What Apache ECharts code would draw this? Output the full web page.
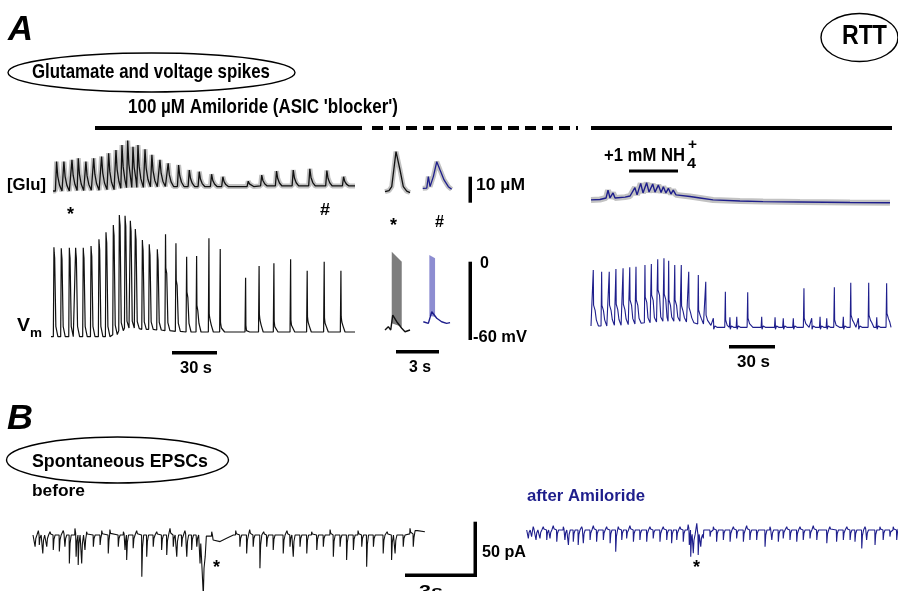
<!DOCTYPE html>
<html>
<head>
<meta charset="utf-8">
<script src="https://cdn.jsdelivr.net/npm/echarts@6/dist/echarts.min.js"></script>
<style>
  html, body { margin: 0; padding: 0; background: #fff; }
  #main { width: 898px; height: 591px; }
</style>
</head>
<body>
<div id="main"></div>
<script>
// ---------- A, left: amiloride run (time in s, Vm in mV, Glu in uM) ----------
var leftSpikeT  = [2.0, 7.0, 12.5, 16.8, 22.0, 27.3, 32.7, 37.5, 42.5, 46.6, 50.5, 54.1, 57.5, 62.3, 67.0, 72.5, 78.1, 85.2, 92.5, 99.3, 107.7, 115.4, 132.7, 141.9, 152.0, 163.4, 174.7, 186.3, 197.7];
var leftVmPeak  = [9.5, 8.8, 9.2, 9.2, 9.2, 10.5, 15.5, 20.8, 26.3, 33.8, 33.2, 29.5, 23.3, 15, 11.8, 8, 19.3, 12.5, 2.5, 3, 16.3, 8.3, -13.3, -4.5, -2.5, 0.5, -8.1, -1.3, -8];
var leftVmHump  = [5.5, 4.8, 5.2, 5.2, 5.2, 6.5, 11.5, 16.8, 22.3, 29.8, 29.2, 25.5, 19.3, 11, 7.8, 4, -6, -15, -24, -34, -41, -47, -49, -41, -46, -45, -42.5, -43.5, -42.5];
var leftVmWidth = [0.3, 0.3, 0.3, 0.3, 0.3, 0.3, 0.3, 0.3, 0.3, 0.3, 0.3, 0.3, 0.3, 0.3, 0.3, 0.3, 0.6, 0.6, 0.6, 0.6, 0.6, 0.6, 0.4, 0.4, 0.4, 0.4, 0.4, 0.4, 0.4];
var leftVmBase  = [-57.5, -57.5, -57.5, -57.5, -57.5, -57.5, -57.5, -57.5, -56, -53, -51, -51, -51.5, -52, -52, -52.5, -53, -53.5, -54, -54, -54, -54, -54, -54, -54, -54, -54, -54, -54];
var leftGluPeak = [10.5, 10.5, 11.1, 11.7, 10.5, 11.7, 12.3, 13.5, 14.6, 16.4, 18, 15.8, 16.4, 14.9, 12.9, 11.1, 9.9, 9.3, 7.5, 6.9, 6, 5.1, 3.5, 5.7, 7.1, 7.5, 7.9, 7.3, 5.1];
var leftGluTrough = [0, 0, 0.2, 0.2, 0.3, 0.3, 0.5, 0.5, 0.7, 1, 1.2, 1.3, 1.3, 1.5, 1.5, 1.6, 1.6, 1.6, 1.6, 1.6, 1.6, 1.6, 1.6, 1.8, 1.8, 1.8, 1.8, 1.8, 1.8];

// ---------- A, middle: single events * and # (3 s scale) ----------
var midGluBlackT = [0.35, 0.63, 0.82, 1.12, 1.40, 1.63, 1.87, 2.10];
var midGluBlackV = [0, 0.4, 1.8, 14.3, 7.75, 1.8, 0.2, -0.3];
var midGluBlueT  = [2.99, 3.27, 3.38, 3.5, 3.73, 3.97, 4.2, 4.48, 4.78, 5.01];
var midGluBlueV  = [1.2, 1.3, 5.4, 1.8, 5.4, 10.7, 7.75, 4.2, 1.8, 0.85];
var midVmBlackT  = [0.35, 0.58, 0.75, 0.89, 1.17, 1.52, 1.75, 2.1];
var midVmBlackV  = [-52.5, -50, -52.5, -41.3, -46.3, -51.2, -53.8, -52.5];
var midVmBlueT   = [3.03, 3.38, 3.62, 3.97, 4.31, 4.66, 4.9];
var midVmBlueV   = [-46.3, -47.5, -38.8, -43.7, -46.3, -47.5, -47];
// burst envelopes [t, top, bottom]
var midBurstBlack = [[0.82, 6.2, -47.5], [1.52, -1.3, -50]];
var midBurstBlue  = [[3.45, 3.75, -42], [3.85, 1.3, -42.5]];

// ---------- A, right: NH4+ run ----------
var rightGluT = [0, 5.9, 9.9, 11.2, 12.5, 14.5, 15.8, 22.4, 25.7, 28.9, 30.3, 32.7, 34.2, 36.6, 38.2, 40.6, 42.1, 44.3, 46.1, 47.6, 49.3, 50.9, 52.6, 54.1, 55.9, 65.1, 71.7, 80.3, 98, 113.2, 137.5, 170.4, 196.7];
var rightGluV = [1.1, 1.25, 1.8, 4.6, 1.8, 3.6, 1.8, 2.1, 2.5, 5.5, 2.9, 7.0, 3.6, 7.25, 3.9, 6.8, 3.9, 6.4, 3.75, 5.8, 3.6, 5.25, 3.2, 4.6, 2.9, 2.3, 1.8, 1.1, 0.7, 0.5, 0.36, 0.2, 0.1];
var rightSpikeT = [1.5, 7.0, 12.0, 16.4, 21.1, 25.5, 29.6, 35.5, 39.7, 43.9, 48.0, 51.1, 55.1, 59.4, 64.3, 70.6, 75.5, 88.4, 103.1, 140.1, 160.1, 170.9, 182.7, 194.5];
var rightVmPeak = [-7.5, -8.8, -8.8, -6.8, -6.2, -5.5, -5, -3.8, -3, 0.5, 1.3, -0.5, -3.8, -3.8, -8.8, -11.3, -16.3, -23.8, -24.2, -21.2, -20.5, -17, -17, -17.5];
var rightVmHump = [-33.8, -34, -33.8, -33.2, -33.2, -30, -30, -27.8, -26.3, -22.5, -25.7, -30, -30, -34.5, -35.5, -37.5, -41.3, -45, -43.7, -43.7, -45, -41.3, -41.3, -40];
var rightVmBase = [-49.5, -49.5, -49, -49, -48.5, -48, -47.5, -47, -46.5, -46, -46, -46, -46, -46.5, -47, -48, -49, -50.5, -50.5, -50.5, -50.5, -50.5, -50.5, -50.5];
var rightMinorT = [80.5, 91.4, 95.9, 112.3, 121.1, 126.5, 133.1, 145.2, 150.7, 155.1, 166, 175.9, 188];
var rightMinorV = [-43.7, -43, -42.5, -42.5, -43, -43.7, -43.7, -43.7, -42.5, -43.7, -42.5, -43.7, -43];

// ---------- B: spontaneous EPSCs (time in s, current in pA) ----------
var beforeT = [0.09, 0.27, 0.42, 0.59, 0.87, 1.13, 1.37, 1.56, 1.85, 1.94, 2.09, 2.23, 2.59, 2.88, 3.23, 3.66, 3.95, 4.02, 4.30, 4.67, 4.88, 5.16, 5.52, 5.74, 6.02, 6.17, 6.38, 6.60, 6.81, 7.03, 7.17, 7.24, 7.31, 7.45, 7.74, 8.88, 9.17, 9.45, 9.74, 10.03, 10.31, 10.74, 11.03, 11.17, 11.46, 11.75, 12.18, 12.46, 12.89, 13.18, 13.46, 13.75, 14.11, 14.32, 14.61, 15.03, 15.39, 15.54, 15.89, 16.32];
var beforeAmp = [-10.6, -9.1, -16.7, -10.6, -13.6, -15, -10.6, -25.8, -19.7, -27.3, -25.8, -13.6, -10.6, -9.1, -16.7, -10.6, -13.6, -22.7, -12, -37.9, -19.7, -10.6, -13.6, -18.2, -10.6, -19.7, -10.6, -19.7, -13.6, -10.6, -25.8, -55, -55, -22.7, -13.6, -10.6, -16.7, -10.6, -30.3, -10.6, -13.6, -16.7, -10.6, -19.7, -10.6, -16.7, -13.6, -10.6, -19.7, -10.6, -22.7, -13.6, -10.6, -28.8, -10.6, -16.7, -22.7, -16.7, -10.6, -10.6];
var beforeUpT = [0.23, 0.73, 1.30, 1.80, 2.30, 2.95, 3.30, 3.88, 4.45, 5.31, 5.88, 6.52, 7.67, 8.7, 9.3, 9.9, 10.9, 11.96, 12.75, 13.95, 15.2, 16.18, 16.47];
var beforeUpAmp = [4, 3, 4, 6, 3, 4, 5, 3, 4, 3, 6, 4, 3, 4, 5, 3, 4, 3, 5, 4, 3, 6, 4];
var beforeBase = [[0, 0], [7.0, 0], [7.24, -19.7], [7.45, -1], [7.74, -4.5], [8.03, -6], [8.31, -3], [8.6, 0], [16.0, 1], [16.4, 4], [16.82, 3]];

var afterT = [0.07, 0.21, 0.40, 0.57, 0.86, 1.00, 1.29, 1.64, 1.79, 2.00, 2.21, 2.43, 2.72, 3.00, 3.29, 3.58, 3.82, 4.08, 4.29, 4.58, 4.86, 5.15, 5.43, 5.72, 6.01, 6.22, 6.44, 6.72, 6.98, 7.04, 7.15, 7.36, 7.47, 7.58, 7.87, 8.15, 8.44, 8.73, 9.01, 9.30, 9.58, 9.87, 10.23, 10.52, 10.80, 11.01, 11.30, 11.59, 11.87, 12.16, 12.45, 12.88, 13.30, 13.59, 13.88, 14.09, 14.38, 14.59, 14.95, 15.30, 15.59, 15.88];
var afterAmp = [-7.6, -6, -9.1, -7.6, -9.1, -7.6, -10.6, -9.1, -13.6, -10.6, -13.6, -12, -9.1, -10.6, -9.1, -12, -19.7, -9.1, -7.6, -10.6, -9.1, -10.6, -7.6, -10.6, -9.1, -12, -9.1, -10.6, -13.6, -24.2, -21.2, -22.7, -15.2, -7.6, -6, -10.6, -9.1, -10.6, -7.6, -10.6, -9.1, -9.1, -15.2, -9.1, -10.6, -7.6, -9.1, -10.6, -9.1, -7.6, -9.1, -12, -10.6, -9.1, -9.1, -10.6, -16.7, -9.1, -13.6, -9.1, -6, -9.1];
var afterUpT = [0.28, 0.71, 1.14, 1.57, 2.36, 2.86, 3.43, 3.93, 4.43, 5.29, 5.86, 6.58, 6.93, 7.30, 8.01, 8.87, 9.44, 10.44, 11.16, 11.73, 12.30, 13.01, 13.74, 14.52, 15.16, 15.73];
var afterUpAmp = [3, 3, 4, 3, 3, 4, 3, 3, 4, 3, 3, 3, 5, 6, 3, 3, 4, 3, 3, 3, 4, 3, 3, 3, 3, 3];
var afterBase = [[0, 0], [6.9, 0], [7.1, -4], [7.4, -4], [7.6, 0], [15.94, 1]];

// ---------- helpers ----------
function zip(ts, vs) {
    return ts.map(function (t, i) { return [t, vs[i]]; });
}

// join event shapes, cutting each tail where the next event starts
function joinEvents(start, end, events) {
    var pts = [start];
    events.forEach(function (ev, i) {
        var limit = i + 1 < events.length ? events[i + 1][0][0] : end[0];
        ev.forEach(function (p, k) {
            if (k === 0 || p[0] < limit) pts.push(p);
        });
    });
    pts.push(end);
    return pts;
}

// spike: thin rise to peak, fall to hump, hold w seconds, tail back to base
function vmShape(t, pk, h, w, b) {
    var tail = b + 0.4 * (Math.min(h, -38) - b);
    return [[t - 0.4, b], [t, pk], [t + 0.2, h], [t + 0.2 + w, h - 4], [t + w + 1.0, tail], [t + w + 2.4, b]];
}

function gluShape(t, pk, tr) {
    var d = pk - tr;
    return [[t + 1.0, tr], [t + 1.8, pk], [t + 2.6, tr + 0.5 * d], [t + 3.8, tr + 0.2 * d], [t + 5.5, tr]];
}

function epscEvents(ts, amps, upT, upAmp, knots) {
    function baseAt(t) {
        var v = knots[0][1];
        knots.forEach(function (k) { if (k[0] <= t) v = k[1]; });
        return v;
    }
    var list = zip(ts, amps).concat(zip(upT, upAmp));
    var evs = list.map(function (e) {
        var b = baseAt(e[0]);
        return [[e[0] - 0.01, b], [e[0], e[1]], [e[0] + 0.03, b + 0.3 * (e[1] - b)], [e[0] + 0.08, b]];
    });
    knots.forEach(function (k) { evs.push([[k[0], k[1]]]); });
    evs.sort(function (a, b) { return a[0][0] - b[0][0]; });
    return evs;
}

// ---------- build traces ----------
var leftVm = joinEvents([0, leftVmBase[0]], [207.3, -54], leftSpikeT.map(function (t, i) {
    return vmShape(t, leftVmPeak[i], leftVmHump[i], leftVmWidth[i], leftVmBase[i]);
}));
var leftGlu = joinEvents([1.4, 0], [207.3, 1.8], leftSpikeT.map(function (t, i) {
    return gluShape(t, leftGluPeak[i], leftGluTrough[i]);
}));

var rightList = rightSpikeT.map(function (t, i) {
    return vmShape(t, rightVmPeak[i], rightVmHump[i], 1.0, rightVmBase[i]);
}).concat(rightMinorT.map(function (t, i) {
    return vmShape(t, rightMinorV[i], -48, 0, -50.5);
}));
rightList.sort(function (a, b) { return a[0][0] - b[0][0]; });
var rightVm = joinEvents([0, -49.5], [197.4, -50.5], rightList);

var beforeTrace = joinEvents([0, 0], [16.82, 3], epscEvents(beforeT, beforeAmp, beforeUpT, beforeUpAmp, beforeBase));
var afterTrace = joinEvents([0, 0], [15.94, 1], epscEvents(afterT, afterAmp, afterUpT, afterUpAmp, afterBase));

// ---------- layout ----------
var grids = [
    {left: 51, top: 140, width: 304, height: 60, x: [0, 207.3], y: [-3.21, 18.21]},
    {left: 51, top: 205, width: 304, height: 140, x: [0, 207.3], y: [-63.75, 41.25]},
    {left: 380, top: 140, width: 75, height: 60, x: [0, 5.245], y: [-2.964, 18.464]},
    {left: 380, top: 205, width: 75, height: 140, x: [0, 5.245], y: [-63.75, 41.25]},
    {left: 591, top: 160, width: 300, height: 50, x: [0, 197.37], y: [-2.5, 15.357]},
    {left: 591, top: 205, width: 300, height: 140, x: [0, 197.37], y: [-63.75, 41.25]},
    {left: 33, top: 505, width: 394, height: 86, x: [0, 16.91], y: [-50.91, 27.27]},
    {left: 526.7, top: 505, width: 371.3, height: 86, x: [0, 15.936], y: [-55.45, 22.73]}
];

var BLACK = '#111111', NAVY = '#1e1e8c', BAND = '#c2c2c2';

function line(gi, data, color, width, z) {
    return {
        type: 'line', xAxisIndex: gi, yAxisIndex: gi, data: data,
        showSymbol: false, symbol: 'none', clip: false, silent: true, z: z || 2,
        lineStyle: {color: color, width: width}, animation: false
    };
}

function burst(gi, env, color) {
    return {
        type: 'custom', coordinateSystem: 'cartesian2d', xAxisIndex: gi, yAxisIndex: gi,
        data: env, encode: {x: 0, y: [1, 2]}, silent: true, z: 1, animation: false,
        renderItem: function (params, api) {
            if (params.dataIndex !== 0) return null;
            var top = [], bot = [];
            env.forEach(function (d) {
                top.push(api.coord([d[0], d[1]]));
                bot.unshift(api.coord([d[0], d[2]]));
            });
            return {type: 'polygon', shape: {points: top.concat(bot)}, style: {fill: color}};
        }
    };
}

// text fitted to a measured width
var measureCtx = document.createElement('canvas').getContext('2d');
function label(str, x, y, size, width, opt) {
    opt = opt || {};
    var weight = opt.normal ? 'normal' : 'bold';
    var style = opt.italic ? 'italic' : 'normal';
    measureCtx.font = style + ' ' + weight + ' ' + size + 'px "Liberation Sans"';
    var w = measureCtx.measureText(str).width;
    return {
        type: 'text', x: x, y: y, scaleX: width ? width / w : 1, z: 10,
        style: {
            text: str, x: 0, y: 0, fill: opt.color || '#000',
            fontSize: size, fontWeight: weight, fontStyle: style,
            fontFamily: 'Liberation Sans', align: 'left', verticalAlign: 'middle'
        }
    };
}
function bar(x, y, w, h) {
    return {type: 'rect', shape: {x: x, y: y, width: w, height: h}, style: {fill: '#000'}, z: 10};
}
function ellipse(cx, cy, rx, ry) {
    return {type: 'ellipse', shape: {cx: cx, cy: cy, rx: rx, ry: ry}, style: {fill: 'none', stroke: '#000', lineWidth: 1.4}, z: 9};
}

var graphics = [
    label('A', 8, 30.5, 35, 25, {italic: true}),
    ellipse(151.5, 72.5, 143.5, 19.5),
    label('Glutamate and voltage spikes', 32, 72, 21, 238),
    label('RTT', 842, 37, 27, 45),
    ellipse(859.5, 37.5, 38.5, 24),
    label("100 \u00b5M Amiloride (ASIC 'blocker')", 128, 107, 20, 270),
    bar(95, 126, 267, 4),
    {type: 'line', shape: {x1: 372, y1: 128, x2: 578, y2: 128}, style: {stroke: '#000', lineWidth: 4, lineDash: [11, 6]}, z: 10},
    bar(591, 126, 301, 4),
    label('[Glu]', 7, 185, 17, 39),
    label('*', 67, 215, 18, null),
    label('#', 320, 211, 16, 10),
    label('*', 390, 226, 18, null),
    label('#', 435, 223, 16, 9),
    bar(468.5, 176.7, 3.5, 26),
    label('10 \u00b5M', 476, 185, 17, 49),
    bar(468.5, 261.7, 3.5, 78.3),
    label('0', 480, 264, 16, null),
    label('-60 mV', 473, 337, 17, 54),
    label('V', 17, 326, 18, 13),
    label('m', 30, 333, 13, 12),
    bar(172, 351, 45, 3.5),
    label('30 s', 180, 368, 17, 32),
    bar(396, 350, 43, 3.5),
    label('3 s', 409, 367, 17, 22),
    bar(729, 345, 46, 3.5),
    label('30 s', 737, 362, 17, 33),
    label('+1 mM NH', 604, 156, 19, 81),
    label('4', 687, 164, 15, 9),
    label('+', 688, 145, 15, 9),
    bar(629, 169.5, 49, 3),
    label('B', 7, 419.5, 35, 26, {italic: true}),
    ellipse(117.5, 460, 111, 23),
    label('Spontaneous EPSCs', 32, 462, 19, 176),
    label('before', 32, 492, 16, 53),
    label('after Amiloride', 527, 496, 17, 118, {color: NAVY}),
    bar(473.5, 521.7, 3.5, 55.3),
    bar(405, 573.5, 72, 3.5),
    label('50 pA', 482, 552.5, 16, 44),
    label('3s', 419, 592, 17, 24),
    label('*', 213, 568, 18, null),
    label('*', 693, 568, 18, null)
];

var option = {
    animation: false,
    backgroundColor: '#fff',
    grid: grids.map(function (g) {
        return {left: g.left, top: g.top, width: g.width, height: g.height, containLabel: false};
    }),
    xAxis: grids.map(function (g, i) {
        return {type: 'value', gridIndex: i, min: g.x[0], max: g.x[1], show: false};
    }),
    yAxis: grids.map(function (g, i) {
        return {type: 'value', gridIndex: i, min: g.y[0], max: g.y[1], show: false};
    }),
    series: [
        line(0, leftGlu, BAND, 5, 1),
        line(0, leftGlu, BLACK, 1.3, 2),
        line(1, leftVm, BLACK, 1.2, 2),
        line(2, zip(midGluBlackT, midGluBlackV), BAND, 5, 1),
        line(2, zip(midGluBlackT, midGluBlackV), BLACK, 1.3, 2),
        line(2, zip(midGluBlueT, midGluBlueV), BAND, 5, 1),
        line(2, zip(midGluBlueT, midGluBlueV), NAVY, 1.3, 2),
        burst(3, midBurstBlack, '#7d7d7d'),
        burst(3, midBurstBlue, 'rgba(80,80,185,0.65)'),
        line(3, zip(midVmBlackT, midVmBlackV), BLACK, 1.4, 2),
        line(3, zip(midVmBlueT, midVmBlueV), NAVY, 1.4, 2),
        line(4, zip(rightGluT, rightGluV), BAND, 6, 1),
        line(4, zip(rightGluT, rightGluV), NAVY, 1.4, 2),
        line(5, rightVm, NAVY, 1.1, 2),
        line(6, beforeTrace, BLACK, 1.1, 2),
        line(7, afterTrace, NAVY, 1.1, 2)
    ],
    graphic: graphics
};

var chart = echarts.init(document.getElementById('main'));
chart.setOption(option);
</script>
</body>
</html>
